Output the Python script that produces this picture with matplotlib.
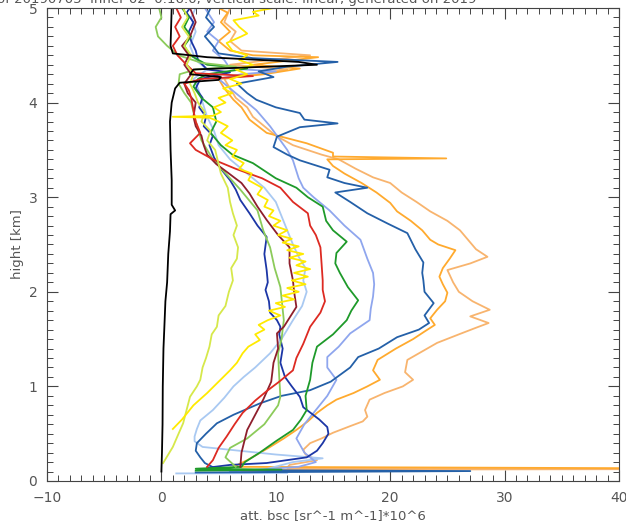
import numpy as np
import matplotlib.pyplot as plt
from matplotlib.ticker import MultipleLocator

# backscatter profiles: (height km, att. bsc * 1e6)
black = [(0.10, 0.0), (0.3, 0.05), (0.6, 0.1), (1.0, 0.12), (1.4, 0.18), (1.6, 0.25), (1.9, 0.35),
         (2.1, 0.5), (2.4, 0.6), (2.64, 0.75), (2.82, 0.8), (2.86, 1.2), (2.92, 0.9), (3.18, 0.9),
         (3.5, 0.8), (3.8, 0.75), (4.0, 0.9), (4.15, 1.2), (4.21, 1.6), (4.24, 5.0), (4.27, 5.2),
         (4.30, 2.5), (4.35, 2.8), (4.40, 13.6), (4.43, 12.0), (4.48, 4.0), (4.52, 1.0), (4.6, 0.8),
         (4.8, 0.85), (5.0, 0.9)]

yellowgreen = [(0.19, 0.15), (0.28, 0.6), (0.36, 1.0), (0.5, 1.5), (0.61, 1.9), (0.75, 2.2), (0.89, 2.5),
               (1.0, 3.1), (1.07, 3.4), (1.2, 3.6), (1.3, 3.9), (1.42, 4.2), (1.55, 4.4), (1.63, 4.85),
               (1.75, 5.0), (1.85, 5.6), (2.0, 5.9), (2.12, 6.25), (2.25, 6.1), (2.35, 6.6), (2.47, 6.7),
               (2.6, 6.3), (2.7, 6.6), (2.83, 6.25), (2.95, 6.0), (3.1, 5.8), (3.25, 5.2), (3.4, 4.9),
               (3.5, 4.7), (3.6, 4.0), (3.7, 4.3), (3.8, 3.5), (3.9, 3.8), (4.0, 3.2), (4.1, 2.9),
               (4.2, 2.5), (4.3, 2.8), (4.4, 2.2), (4.5, 2.6), (4.6, 2.0), (4.7, 2.4), (4.8, 1.8),
               (4.9, 2.3), (5.0, 1.9)]

yellow = [(0.55, 1.0), (0.65, 1.8), (0.8, 2.8), (0.93, 4.0), (1.05, 5.0), (1.17, 6.0), (1.25, 6.6),
          (1.35, 7.1), (1.42, 7.6), (1.49, 8.6), (1.55, 8.2), (1.6, 9.0), (1.65, 8.5), (1.70, 9.3),
          (1.75, 10.4), (1.8, 9.4), (1.84, 10.8), (1.88, 10.0), (1.92, 11.6), (1.96, 10.6), (2.0, 12.0),
          (2.04, 11.0), (2.08, 12.6), (2.12, 11.4), (2.16, 12.8), (2.2, 11.6), (2.24, 13.0), (2.28, 11.8),
          (2.32, 12.6), (2.36, 11.2), (2.4, 12.4), (2.44, 11.0), (2.48, 12.0), (2.52, 10.6), (2.56, 11.4),
          (2.6, 10.2), (2.65, 11.0), (2.7, 9.8), (2.75, 10.4), (2.8, 9.4), (2.86, 9.8), (2.9, 9.0),
          (2.97, 9.3), (3.03, 8.4), (3.1, 8.8), (3.18, 7.6), (3.25, 7.9), (3.3, 6.8), (3.36, 7.2),
          (3.43, 6.2), (3.5, 6.6), (3.55, 5.6), (3.6, 6.2), (3.68, 5.2), (3.75, 5.8), (3.8, 5.0),
          (3.84, 4.2), (3.85, 1.0), (3.86, 4.5), (3.9, 5.2), (3.95, 4.6), (4.0, 5.6), (4.05, 5.0),
          (4.1, 6.2), (4.15, 5.4), (4.2, 7.0), (4.25, 6.0), (4.3, 7.5), (4.35, 6.5), (4.4, 8.0),
          (4.45, 6.8), (4.5, 7.5), (4.55, 6.2), (4.63, 5.7), (4.7, 7.0), (4.73, 7.5), (4.8, 6.8),
          (4.87, 6.3), (4.92, 8.5), (4.96, 8.0), (5.0, 9.8)]

lightgreen = [(0.15, 6.5), (0.25, 5.6), (0.35, 6.0), (0.45, 7.5), (0.6, 9.0), (0.8, 10.2), (0.89, 10.4),
              (1.1, 10.3), (1.35, 10.2), (1.5, 10.5), (1.7, 10.7), (2.05, 10.4), (2.25, 9.9), (2.47, 9.5),
              (2.65, 8.9), (2.86, 8.4), (3.08, 6.9), (3.2, 6.0), (3.4, 4.5), (3.6, 3.5), (3.8, 3.0),
              (4.0, 2.6), (4.1, 2.0), (4.2, 1.5), (4.3, 1.6), (4.35, 3.0), (4.38, 6.5), (4.42, 3.5),
              (4.5, 1.5), (4.6, 0.5), (4.7, -0.3), (4.8, -0.5), (4.9, 0.0), (5.0, -0.2)]

green = [(0.11, 3.0), (0.12, 10.5), (0.13, 3.0), (0.15, 7.0), (0.2, 7.3), (0.3, 8.6), (0.42, 10.0),
         (0.54, 11.5), (0.65, 12.2), (0.75, 12.7), (0.9, 12.6), (1.07, 13.0), (1.25, 13.2), (1.42, 13.6),
         (1.55, 15.0), (1.7, 16.2), (1.8, 16.6), (1.91, 17.2), (2.05, 16.3), (2.2, 15.6), (2.3, 15.2),
         (2.41, 15.3), (2.53, 16.2), (2.65, 15.0), (2.75, 14.4), (2.9, 14.1), (3.0, 12.8), (3.1, 11.8),
         (3.2, 10.0), (3.36, 8.0), (3.45, 6.2), (3.55, 5.2), (3.68, 4.3), (3.8, 4.8), (3.95, 4.5),
         (4.05, 3.5), (4.17, 2.8), (4.25, 3.2), (4.3, 4.0), (4.36, 7.5), (4.4, 4.0), (4.5, 2.5),
         (4.6, 2.0), (4.7, 2.6), (4.8, 2.0), (4.9, 2.4), (5.0, 1.8)]

red = [(0.15, 4.0), (0.22, 4.5), (0.35, 5.0), (0.47, 5.7), (0.6, 6.4), (0.72, 7.1), (0.85, 8.2),
       (0.95, 9.2), (1.05, 10.3), (1.17, 11.5), (1.3, 11.8), (1.45, 12.4), (1.63, 13.0), (1.78, 13.9),
       (1.9, 14.3), (2.02, 14.1), (2.12, 14.1), (2.3, 14.0), (2.47, 13.9), (2.6, 13.5), (2.7, 13.0),
       (2.83, 12.8), (2.95, 11.5), (3.1, 10.4), (3.2, 8.8), (3.3, 6.5), (3.4, 4.5), (3.5, 3.0),
       (3.57, 2.5), (3.68, 3.4), (3.8, 3.0), (3.92, 2.8), (4.05, 2.6), (4.13, 2.4), (4.2, 2.0),
       (4.25, 3.5), (4.28, 8.0), (4.31, 3.0), (4.4, 2.2), (4.5, 1.4), (4.6, 1.0), (4.7, 1.6),
       (4.8, 1.2), (4.9, 1.7), (5.0, 1.3)]

darkred = [(0.15, 6.9), (0.3, 7.0), (0.54, 7.5), (0.86, 8.9), (1.05, 9.6), (1.25, 9.8), (1.4, 10.2),
           (1.56, 10.1), (1.63, 10.7), (1.84, 11.8), (2.0, 11.6), (2.12, 11.5), (2.3, 11.2), (2.47, 11.2),
           (2.6, 10.2), (2.76, 9.2), (2.9, 8.4), (3.04, 7.7), (3.15, 7.0), (3.26, 5.8), (3.35, 4.8),
           (3.45, 4.0), (3.55, 3.7), (3.65, 3.5), (3.75, 3.0), (3.85, 2.8), (4.0, 3.0), (4.1, 2.3),
           (4.2, 2.0), (4.3, 2.6), (4.4, 2.0), (4.5, 2.4), (4.6, 1.8), (4.7, 2.5), (4.85, 3.0), (5.0, 2.5)]

navy = [(0.14, 4.0), (0.17, 6.0), (0.19, 9.2), (0.25, 12.7), (0.32, 13.6), (0.4, 14.1), (0.5, 14.6),
        (0.57, 14.5), (0.65, 13.8), (0.78, 12.4), (0.89, 12.1), (1.0, 11.4), (1.1, 10.8), (1.25, 10.4),
        (1.4, 10.6), (1.55, 10.3), (1.63, 10.4), (1.7, 10.1), (1.78, 9.5), (1.9, 9.4), (2.02, 9.1),
        (2.1, 9.3), (2.23, 9.2), (2.4, 9.0), (2.58, 9.2), (2.7, 8.4), (2.83, 7.7), (2.97, 6.9),
        (3.08, 6.5), (3.18, 6.0), (3.3, 5.2), (3.42, 4.6), (3.55, 4.2), (3.65, 4.5), (3.75, 3.7),
        (3.85, 3.9), (3.95, 3.3), (4.05, 3.6), (4.15, 3.0), (4.25, 3.4), (4.32, 6.0), (4.35, 4.0),
        (4.45, 3.2), (4.55, 3.0), (4.65, 2.6), (4.75, 2.4), (4.85, 2.8), (4.95, 2.2), (5.0, 2.5)]

steelblue = [(0.09, 3.0), (0.105, 27.0), (0.115, 5.0), (0.19, 3.8), (0.25, 3.4), (0.32, 3.0), (0.4, 3.1),
             (0.5, 3.9), (0.61, 4.85), (0.7, 6.3), (0.82, 8.6), (0.9, 10.5), (0.96, 13.0), (1.05, 14.8),
             (1.2, 16.5), (1.31, 17.2), (1.4, 19.0), (1.52, 20.6), (1.6, 22.5), (1.67, 23.4), (1.75, 23.0),
             (1.88, 23.8), (2.0, 23.0), (2.12, 22.9), (2.2, 22.8), (2.31, 22.9), (2.45, 22.2), (2.62, 21.5),
             (2.72, 19.8), (2.83, 18.0), (2.95, 16.5), (3.05, 15.2), (3.1, 18.0), (3.15, 16.0),
             (3.21, 14.5), (3.29, 14.7), (3.39, 12.1), (3.45, 11.0), (3.53, 9.8), (3.64, 10.1),
             (3.74, 12.1), (3.78, 15.4), (3.82, 12.5), (3.89, 12.1), (3.95, 10.0), (4.03, 8.3),
             (4.1, 7.5), (4.2, 6.6), (4.27, 9.8), (4.33, 8.5), (4.38, 11.0), (4.43, 15.4), (4.47, 8.0),
             (4.52, 5.0), (4.6, 4.5), (4.7, 3.8), (4.8, 4.6), (4.9, 3.9), (5.0, 4.3)]

periwinkle = [(0.1, 6.0), (0.15, 12.0), (0.2, 13.5), (0.3, 12.5), (0.45, 11.8), (0.6, 12.5), (0.75, 13.5),
              (0.9, 14.5), (1.07, 15.3), (1.2, 14.5), (1.31, 14.5), (1.42, 15.5), (1.56, 16.5), (1.7, 18.2),
              (1.82, 18.3), (1.95, 18.5), (2.08, 18.6), (2.2, 18.5), (2.35, 18.0), (2.55, 17.4), (2.7, 16.0),
              (2.86, 14.7), (3.0, 13.3), (3.1, 12.4), (3.2, 12.0), (3.39, 11.5), (3.5, 11.0), (3.6, 10.4),
              (3.75, 9.5), (3.92, 8.3), (4.05, 7.0), (4.15, 6.0), (4.25, 5.0), (4.3, 7.0), (4.33, 10.0),
              (4.36, 6.0), (4.45, 5.5), (4.55, 4.5), (4.65, 5.0), (4.75, 4.0), (4.85, 4.6), (5.0, 3.8)]

paleblue = [(0.08, 1.3), (0.085, 11.0), (0.12, 9.0), (0.2, 11.5), (0.24, 14.1), (0.28, 10.0), (0.33, 6.0),
            (0.36, 3.6), (0.42, 2.9), (0.47, 2.9), (0.55, 3.1), (0.64, 3.4), (0.75, 4.5), (0.88, 5.5),
            (1.0, 6.3), (1.1, 7.2), (1.2, 8.2), (1.35, 9.5), (1.5, 10.5), (1.7, 11.5), (1.85, 12.3),
            (2.0, 12.7), (2.12, 12.4), (2.25, 12.6), (2.37, 12.0), (2.5, 11.5), (2.65, 11.0), (2.8, 10.5),
            (2.95, 10.0), (3.1, 9.0), (3.25, 7.5), (3.4, 6.0), (3.55, 5.0), (3.7, 4.6), (3.85, 4.0),
            (4.0, 3.6), (4.15, 3.2), (4.25, 2.8), (4.35, 4.0), (4.45, 3.0), (4.6, 2.5), (4.75, 3.0),
            (4.9, 2.6), (5.0, 3.0)]

orange = [(0.135, 42.0), (0.15, 6.3), (0.22, 7.5), (0.29, 8.5), (0.36, 9.5), (0.45, 10.7), (0.54, 11.8),
          (0.63, 12.8), (0.72, 13.6), (0.8, 14.5), (0.86, 15.3), (0.93, 16.8), (1.0, 18.0), (1.07, 19.1),
          (1.17, 18.5), (1.28, 18.9), (1.4, 20.5), (1.5, 22.0), (1.58, 23.0), (1.65, 23.9), (1.72, 23.5),
          (1.81, 24.1), (1.9, 24.8), (1.99, 25.0), (2.08, 24.6), (2.16, 24.3), (2.25, 24.6), (2.35, 25.2),
          (2.44, 25.7), (2.5, 24.2), (2.55, 23.5), (2.65, 22.8), (2.75, 21.8), (2.85, 20.6), (2.94, 20.0),
          (3.05, 18.8), (3.15, 17.5), (3.25, 16.0), (3.33, 15.0), (3.40, 14.5), (3.41, 24.9), (3.43, 15.0),
          (3.47, 15.0), (3.57, 12.7), (3.68, 9.2), (3.82, 7.7), (3.95, 7.0), (4.03, 6.3), (4.15, 5.5),
          (4.25, 5.0), (4.3, 9.0), (4.36, 12.1), (4.4, 8.0), (4.48, 13.7), (4.5, 8.0), (4.55, 6.0),
          (4.65, 5.0), (4.75, 6.0), (4.85, 5.2), (4.95, 5.8), (5.0, 5.0)]

peach = [(0.1, 7.0), (0.12, 10.6), (0.125, 42.0), (0.14, 11.0), (0.17, 11.2), (0.22, 13.6), (0.24, 13.3),
         (0.28, 12.6), (0.33, 12.4), (0.4, 13.0), (0.45, 14.0), (0.51, 15.0), (0.58, 16.5), (0.63, 17.6),
         (0.68, 18.0), (0.75, 17.8), (0.86, 18.2), (0.93, 19.5), (1.0, 21.1), (1.07, 22.0), (1.15, 21.3),
         (1.28, 21.5), (1.37, 22.8), (1.46, 24.1), (1.55, 26.0), (1.62, 27.5), (1.67, 28.6), (1.74, 27.0),
         (1.81, 28.7), (1.9, 27.2), (2.0, 26.0), (2.1, 25.5), (2.23, 25.0), (2.3, 27.0), (2.37, 28.5),
         (2.45, 27.5), (2.55, 26.8), (2.65, 26.1), (2.75, 25.0), (2.85, 23.5), (2.95, 22.3), (3.05, 21.0),
         (3.15, 20.0), (3.21, 18.5), (3.3, 17.0), (3.4, 15.5), (3.45, 14.0), (3.55, 11.5), (3.65, 10.0),
         (3.75, 9.0), (3.85, 8.0), (3.95, 7.5), (4.05, 6.5), (4.15, 6.0), (4.25, 5.5), (4.35, 11.0),
         (4.4, 6.0), (4.5, 13.0), (4.55, 7.0), (4.65, 6.0), (4.75, 6.5), (4.85, 5.5), (5.0, 6.0)]

profiles = [
    (peach, '#F8B46E'),
    (orange, '#FFAA2E'),
    (paleblue, '#A9C9F2'),
    (periwinkle, '#8FA6EE'),
    (steelblue, '#2460A8'),
    (navy, '#1C36A6'),
    (green, '#1E9A2A'),
    (lightgreen, '#8CCB5A'),
    (darkred, '#8E1F2C'),
    (red, '#DD2A22'),
    (yellowgreen, '#D6E84A'),
    (yellow, '#FFEA00'),
    (black, '#000000'),
]

title = "of 20190705  inner 02  0:16:0, vertical scale: linear, generated on 2019"

fig = plt.figure(figsize=(6.26, 5.26), dpi=100)
ax = fig.add_axes([47 / 626, 45 / 526, 572 / 626, 473 / 526])

for prof, col in profiles:
    p = np.array(prof)
    ax.plot(p[:, 1], p[:, 0], color=col, lw=1.3, solid_joinstyle='round')

ax.set_xlim(-10, 40)
ax.set_ylim(0, 5)
ax.xaxis.set_major_locator(MultipleLocator(10))
ax.xaxis.set_minor_locator(MultipleLocator(1))
ax.yaxis.set_major_locator(MultipleLocator(1))
ax.yaxis.set_minor_locator(MultipleLocator(0.1))
ax.tick_params(which='both', direction='in', top=True, right=True, colors='#444444',
               labelcolor='#555555', labelsize=10)
ax.tick_params(which='major', length=8, width=0.8, pad=7)
ax.tick_params(which='minor', length=4, width=0.7)
for s in ax.spines.values():
    s.set_color('#444444')
    s.set_linewidth(0.8)

ax.set_xlabel('att. bsc [sr^-1 m^-1]*10^6', color='#555555', fontsize=9.5, labelpad=3)
ax.set_ylabel('hight [km]', color='#555555', fontsize=9.5, labelpad=3)
fig.text(-0.005, 1 - 3 / 526, title, color='#555555', fontsize=9.5, ha='left', va='baseline')

fig.savefig('out.png', dpi=100)
